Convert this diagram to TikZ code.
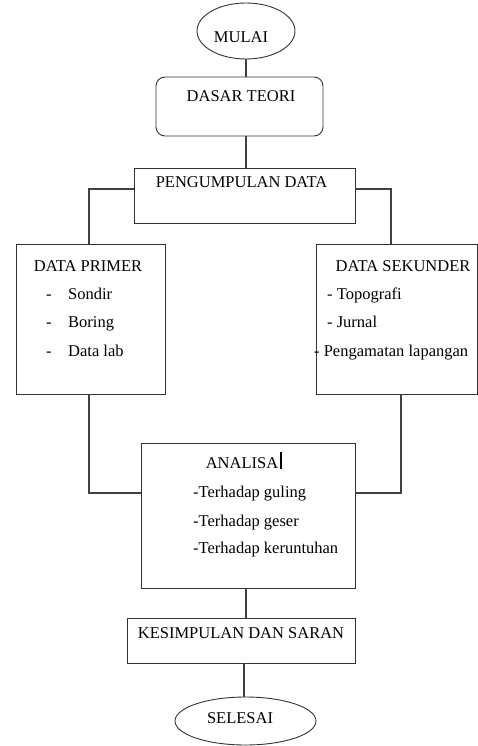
\documentclass[tikz,border=0pt]{standalone}
\usepackage{fontspec}
\setmainfont{Liberation Serif}
\usetikzlibrary{shapes.geometric}
\begin{document}
\begin{tikzpicture}[x=1pt,y=-1pt,
  box/.style={draw=black!80,line width=0.9pt,inner sep=0pt,fill=none},
  oval/.style={draw=black!80,line width=0.9pt,ellipse,inner sep=0pt},
  conn/.style={draw=black!75,line width=1.1pt},
  txt/.style={anchor=base,inner sep=0pt,font=\fontsize{16.5}{19}\selectfont},
  ltxt/.style={anchor=base west,inner sep=0pt,font=\fontsize{16.5}{19}\selectfont}]
\useasboundingbox (0,0) rectangle (478,746);
% shapes
\node[oval,minimum width=98pt,minimum height=56pt] (mulai) at (246,31) {};
\node[box,rounded corners=9pt,minimum width=167pt,minimum height=59pt] (dasar) at (239.5,106.5) {};
\node[box,minimum width=221pt,minimum height=55pt] (kumpul) at (244.5,195.5) {};
\node[box,minimum width=149pt,minimum height=150pt] (primer) at (90.5,319) {};
\node[box,minimum width=161pt,minimum height=150pt] (sekunder) at (396.5,319) {};
\node[box,minimum width=214pt,minimum height=145pt] (analisa) at (248,515.5) {};
\node[box,minimum width=228pt,minimum height=45pt] (kesimpulan) at (241,640.5) {};
\node[oval,minimum width=141pt,minimum height=48pt] (selesai) at (245.5,721) {};
\coordinate (axis) at (246,0);
\coordinate (axisb) at (244,0);
% texts
\node[txt] (tmulai) at (241,43) {MULAI};
\node[txt] (tdasar) at (241,102) {DASAR TEORI};
\node[txt] (tkumpul) at (241.5,187) {PENGUMPULAN DATA};
\node[txt] (tprimer) at (88,271) {DATA PRIMER};
\node[ltxt] (p1d) at (46,299) {-};
\node[ltxt] (p1) at (68,299) {Sondir};
\node[ltxt] (p2d) at (46,327) {-};
\node[ltxt] (p2) at (68,327) {Boring};
\node[ltxt] (p3d) at (46,356) {-};
\node[ltxt] (p3) at (68,356) {Data lab};
\node[txt] (tsekunder) at (403,271) {DATA SEKUNDER};
\node[ltxt] (s1) at (327,299) {- Topografi};
\node[ltxt] (s2) at (327,327) {- Jurnal};
\node[ltxt] (s3) at (314,356) {- Pengamatan lapangan};
\node[txt] (tanalisa) at (242,468) {ANALISA};
\node[ltxt] (a1) at (193,497) {-Terhadap guling};
\node[ltxt] (a2) at (193,526) {-Terhadap geser};
\node[ltxt] (a3) at (193,553) {-Terhadap keruntuhan};
\node[txt] (tkes) at (241,638) {KESIMPULAN DAN SARAN};
\node[txt] (tsel) at (240,723) {SELESAI};
\fill[black] (tanalisa.base east) ++(1.5,1) rectangle ++(2,-17);
% connectors
\draw[conn] (mulai.south -| axis) -- (axis |- dasar.north);
\draw[conn] (dasar.south -| axis) -- (axis |- kumpul.north);
\draw[conn] ([yshift=6.5pt]kumpul.west) -| ([xshift=-1.5pt]primer.north);
\draw[conn] ([yshift=6.5pt]kumpul.east) -| ([xshift=-5.5pt]sekunder.north);
\draw[conn] ([xshift=-1.5pt]primer.south) |- ([yshift=22.5pt]analisa.west);
\draw[conn] ([xshift=4.5pt]sekunder.south) |- ([yshift=22.5pt]analisa.east);
\draw[conn] (analisa.south -| axis) -- (axis |- kesimpulan.north);
\draw[conn] (kesimpulan.south -| axisb) -- (axisb |- selesai.north);
\end{tikzpicture}
\end{document}
